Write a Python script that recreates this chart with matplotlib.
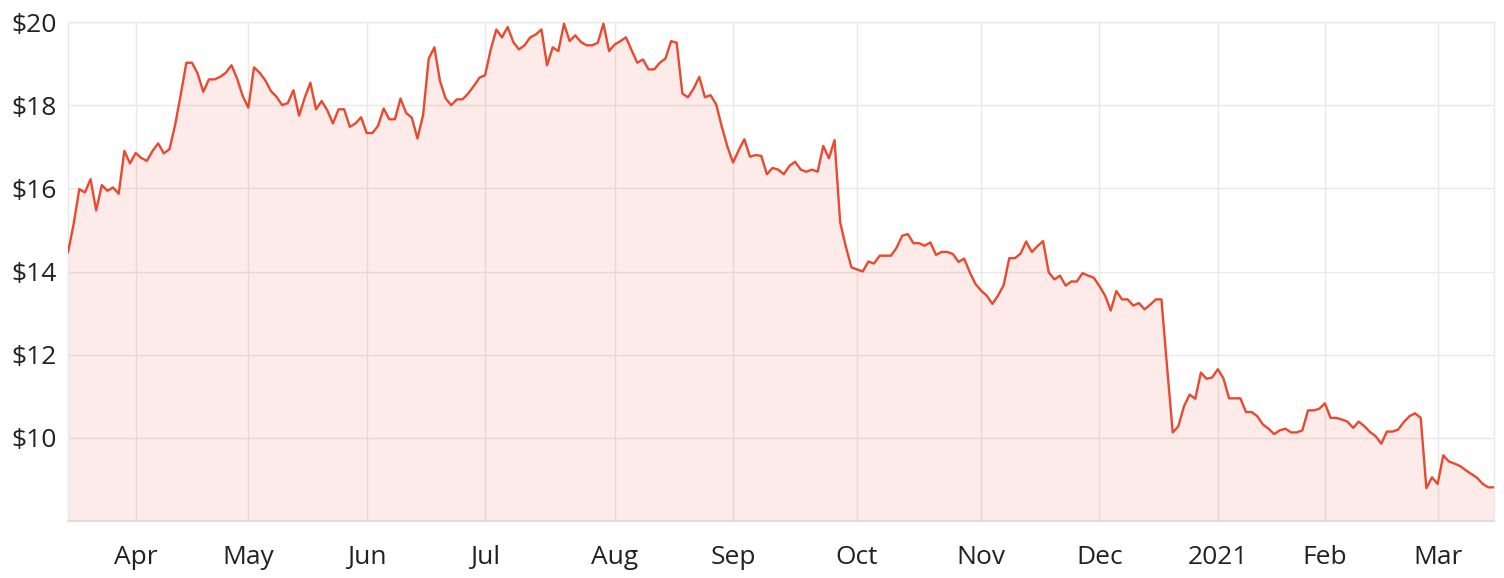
import numpy as np
import pandas as pd
import matplotlib
matplotlib.use('Agg')
import matplotlib.pyplot as plt

# ASX trading days, 16 Mar 2020 - 15 Mar 2021
holidays = ['2020-04-10', '2020-04-13', '2020-06-08', '2020-12-25',
            '2020-12-28', '2021-01-01', '2021-01-26']
dates = pd.bdate_range('2020-03-16', '2021-03-15')
dates = dates[~dates.isin(pd.to_datetime(holidays))]

# closing price ($)
prices = [
    14.46, 15.14, 15.98, 15.90, 16.22, 15.47, 16.08, 15.94, 16.02, 15.87,
    16.90, 16.60, 16.85, 16.73, 16.66, 16.90, 17.08, 16.84, 16.94, 17.52,
    18.25, 19.02, 19.02, 18.76, 18.32, 18.62, 18.62, 18.68, 18.78, 18.96,
    18.64, 18.22, 17.94, 18.91, 18.78, 18.60, 18.34, 18.20, 18.00, 18.05,
    18.36, 17.75, 18.18, 18.54, 17.90, 18.10, 17.88, 17.56, 17.90, 17.90,
    17.48, 17.56, 17.71, 17.33, 17.33, 17.50, 17.92, 17.66, 17.66, 18.16,
    17.81, 17.70, 17.20, 17.76, 19.12, 19.39, 18.58, 18.16, 18.00, 18.14,
    18.14, 18.28, 18.46, 18.66, 18.72, 19.34, 19.82, 19.63, 19.88, 19.52,
    19.34, 19.44, 19.63, 19.70, 19.82, 18.96, 19.39, 19.30, 19.96, 19.54,
    19.68, 19.52, 19.44, 19.44, 19.50, 19.96, 19.30, 19.46, 19.54, 19.63,
    19.32, 19.02, 19.10, 18.86, 18.86, 19.02, 19.12, 19.54, 19.50, 18.28,
    18.19, 18.40, 18.68, 18.19, 18.24, 18.02, 17.48, 17.00, 16.62, 16.92,
    17.18, 16.76, 16.80, 16.78, 16.34, 16.49, 16.45, 16.34, 16.54, 16.64,
    16.45, 16.40, 16.45, 16.40, 17.02, 16.72, 17.16, 15.18, 14.60, 14.10,
    14.05, 14.00, 14.24, 14.19, 14.38, 14.38, 14.38, 14.57, 14.86, 14.90,
    14.68, 14.68, 14.62, 14.70, 14.40, 14.47, 14.47, 14.42, 14.23, 14.31,
    13.98, 13.70, 13.54, 13.42, 13.22, 13.42, 13.67, 14.32, 14.32, 14.43,
    14.72, 14.47, 14.61, 14.73, 13.98, 13.81, 13.90, 13.66, 13.76, 13.76,
    13.96, 13.90, 13.85, 13.65, 13.42, 13.06, 13.53, 13.33, 13.33, 13.18,
    13.24, 13.09, 13.20, 13.33, 13.33, 11.70, 10.13, 10.28, 10.76, 11.04,
    10.94, 11.57, 11.42, 11.45, 11.65, 11.43, 10.95, 10.95, 10.95, 10.62,
    10.62, 10.52, 10.32, 10.22, 10.09, 10.18, 10.22, 10.13, 10.13, 10.18,
    10.66, 10.66, 10.70, 10.83, 10.48, 10.48, 10.44, 10.39, 10.24, 10.39,
    10.28, 10.14, 10.04, 9.86, 10.15, 10.15, 10.20, 10.38, 10.52, 10.59,
    10.48, 8.79, 9.05, 8.89, 9.58, 9.43, 9.38, 9.32, 9.22, 9.13,
    9.04, 8.89, 8.81, 8.81,
]

y_ticks = [10, 12, 14, 16, 18, 20]

line_color = '#e8492f'
text_color = '#222222'
grid_color = '#e9e9e9'

plt.rcParams['font.family'] = ['Open Sans', 'DejaVu Sans']

x = np.arange(len(dates))
periods = dates.to_period('M')
month_idx = [i for i in range(1, len(dates)) if periods[i] != periods[i - 1]]
month_lbl = [str(dates[i].year) if dates[i].month == 1 else dates[i].strftime('%b')
             for i in month_idx]

fig = plt.figure(figsize=(15.04, 5.78), dpi=100)
ax = fig.add_axes([68 / 1504, 1 - 521 / 578, 1426 / 1504, 499 / 578])

ax.fill_between(x, prices, 8, color=line_color, alpha=0.11, linewidth=0, zorder=1)
ax.plot(x, prices, color=line_color, linewidth=1.7, zorder=3)

ax.set_xlim(0, len(dates) - 1)
ax.set_ylim(8, 20)
ax.set_xticks(month_idx)
ax.set_xticklabels(month_lbl)
ax.set_yticks(y_ticks)
ax.set_yticklabels(['$%d' % v for v in y_ticks])

ax.grid(True, color=grid_color, linewidth=1.0, zorder=0)
ax.set_axisbelow(True)
ax.tick_params(length=0, labelsize=19, colors=text_color)
ax.tick_params(axis='x', pad=17)
ax.tick_params(axis='y', pad=8)

for side in ['left', 'right', 'top']:
    ax.spines[side].set_color(grid_color)
    ax.spines[side].set_linewidth(1.0)
ax.spines['bottom'].set_color('#e2d6d4')
ax.spines['bottom'].set_linewidth(1.2)

fig.savefig('out.png', dpi=100)
